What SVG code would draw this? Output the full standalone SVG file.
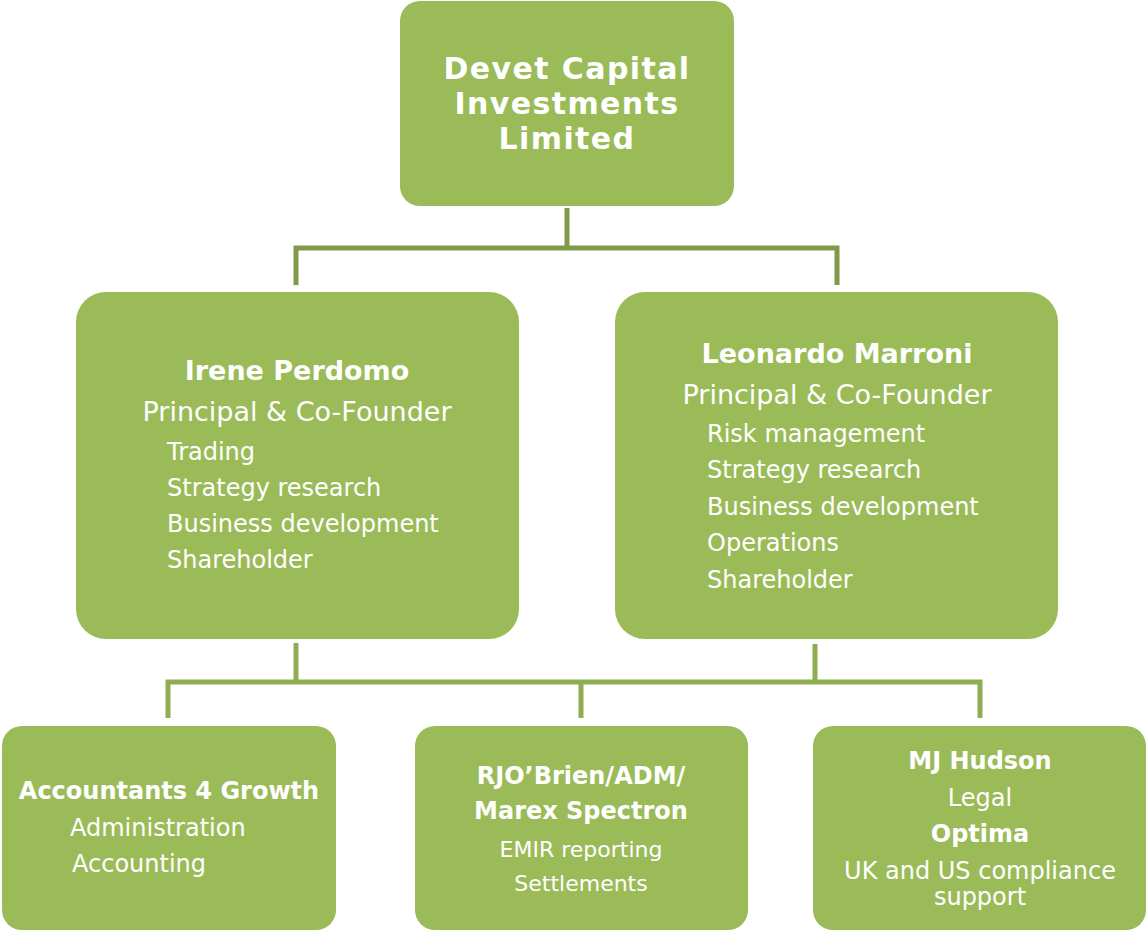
<svg xmlns="http://www.w3.org/2000/svg" width="1146" height="931" viewBox="0 0 1146 931">
<style>
.box{fill:#9bbb59}
text{font-family:"DejaVu Sans",Verdana,sans-serif;fill:#ffffff}
.c{text-anchor:middle}
.t{font-size:30px;font-weight:bold;letter-spacing:1.4px}
.h{font-size:27px;font-weight:bold}
.r{font-size:27px}
.i{font-size:24px}
.bb{font-size:24px;font-weight:bold}
.s{font-size:22px}
.top{fill:none;stroke:#7f9a48;stroke-width:5}
.bot{fill:none;stroke:#8fad53;stroke-width:5}
</style>
<rect width="1146" height="931" fill="#ffffff"/>
<g id="connectors">
<path class="top" d="M567,208 V248 M296,285 V248 H837 V285"/>
<path class="bot" d="M296,643 V682 M815,644 V682 M168,718 V682 H980 V718 M581,682 V718"/>
</g>
<g id="n-devet">
<rect class="box" x="400" y="1" width="334" height="205" rx="20"/>
<text class="t c" x="567" y="79">Devet Capital</text>
<text class="t c" x="567" y="114">Investments</text>
<text class="t c" x="567" y="149">Limited</text>
</g>
<g id="n-irene">
<rect class="box" x="76" y="292" width="443" height="347" rx="30"/>
<text class="h c" x="297" y="380">Irene Perdomo</text>
<text class="r c" x="297" y="421">Principal &amp; Co-Founder</text>
<text class="i" x="167" y="460">Trading</text>
<text class="i" x="167" y="496">Strategy research</text>
<text class="i" x="167" y="532">Business development</text>
<text class="i" x="167" y="568">Shareholder</text>
</g>
<g id="n-leonardo">
<rect class="box" x="615" y="292" width="443" height="347" rx="30"/>
<text class="h c" x="837" y="363">Leonardo Marroni</text>
<text class="r c" x="837" y="404">Principal &amp; Co-Founder</text>
<text class="i" x="707" y="442">Risk management</text>
<text class="i" x="707" y="478">Strategy research</text>
<text class="i" x="707" y="515">Business development</text>
<text class="i" x="707" y="551">Operations</text>
<text class="i" x="707" y="588">Shareholder</text>
</g>
<g id="n-a4g">
<rect class="box" x="2" y="726" width="334" height="204" rx="20"/>
<text class="bb c" x="169" y="799">Accountants 4 Growth</text>
<text class="i" x="70" y="836">Administration</text>
<text class="i" x="72" y="872">Accounting</text>
</g>
<g id="n-rjo">
<rect class="box" x="415" y="726" width="333" height="204" rx="20"/>
<text class="bb c" x="581" y="784">RJO’Brien/ADM/</text>
<text class="bb c" x="581" y="819">Marex Spectron</text>
<text class="s c" x="581" y="857">EMIR reporting</text>
<text class="s c" x="581" y="891">Settlements</text>
</g>
<g id="n-mjh">
<rect class="box" x="813" y="726" width="333" height="204" rx="20"/>
<text class="bb c" x="980" y="769">MJ Hudson</text>
<text class="i c" x="980" y="806">Legal</text>
<text class="bb c" x="980" y="842">Optima</text>
<text class="i c" x="980" y="879">UK and US compliance</text>
<text class="i c" x="980" y="905">support</text>
</g>
</svg>
